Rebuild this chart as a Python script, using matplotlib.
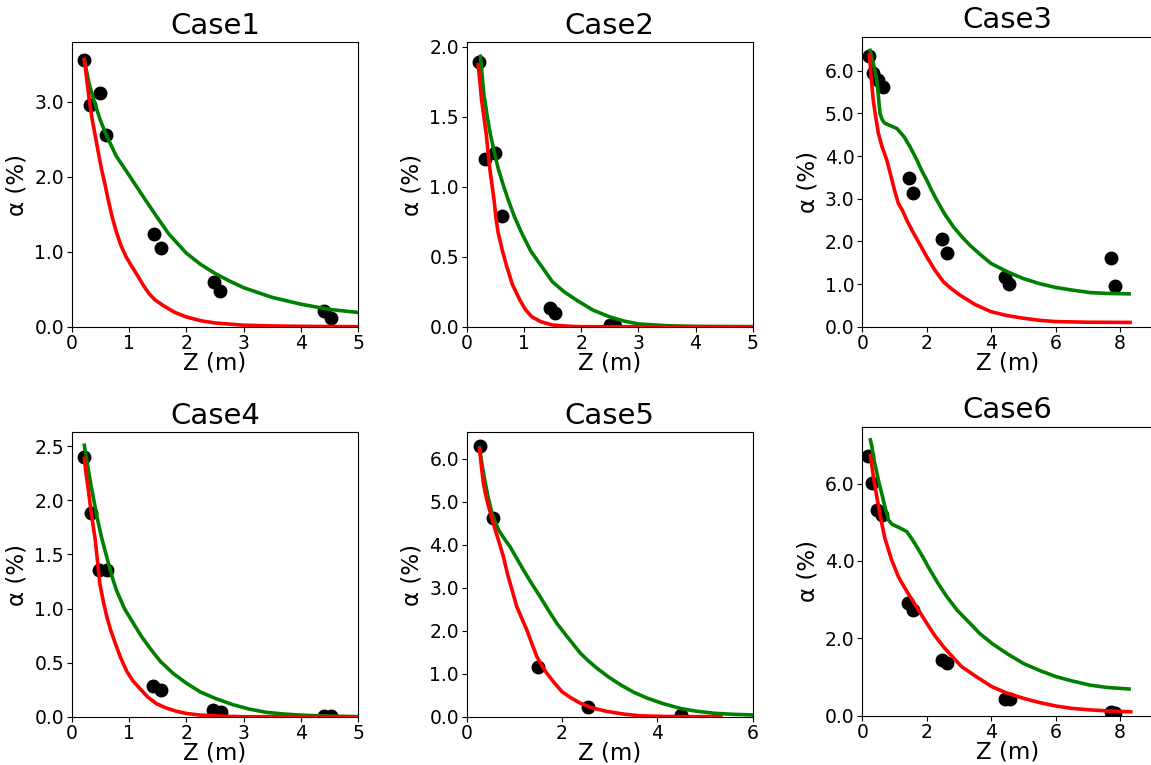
import matplotlib
matplotlib.use('Agg')
import matplotlib.pyplot as plt
from matplotlib.ticker import FormatStrFormatter

# measured points (Z in m, alpha in %)
case1_z = [0.22, 0.32, 0.49, 0.60, 1.44, 1.55, 2.48, 2.59, 4.41, 4.52]
case1_a = [3.56, 2.96, 3.11, 2.55, 1.24, 1.05, 0.59, 0.48, 0.21, 0.12]
case1_green_z = [0.22, 0.30, 0.40, 0.50, 0.60, 0.78, 1.0, 1.25, 1.48, 1.69, 2.0, 2.25, 2.5,
                 2.75, 3.0, 3.5, 4.0, 4.5, 5.0]
case1_green_a = [3.56, 3.25, 2.98, 2.75, 2.56, 2.27, 2.02, 1.73, 1.47, 1.24, 0.98, 0.83, 0.71,
                 0.61, 0.52, 0.39, 0.30, 0.23, 0.19]
case1_red_z = [0.22, 0.27, 0.31, 0.36, 0.41, 0.47, 0.52, 0.58, 0.64, 0.71, 0.78, 0.86, 0.95,
               1.05, 1.15, 1.25, 1.35, 1.45, 1.6, 1.8, 2.0, 2.25, 2.5, 3.0, 3.5, 4.0, 5.0]
case1_red_a = [3.56, 3.25, 3.0, 2.75, 2.55, 2.3, 2.1, 1.9, 1.68, 1.45, 1.26, 1.08, 0.93,
               0.80, 0.68, 0.55, 0.44, 0.36, 0.28, 0.19, 0.13, 0.08, 0.05, 0.02, 0.01, 0.005, 0.0]

case2_z = [0.22, 0.32, 0.49, 0.61, 1.45, 1.55, 2.50, 2.59]
case2_a = [1.89, 1.20, 1.24, 0.79, 0.13, 0.10, 0.01, 0.005]
case2_green_z = [0.24, 0.30, 0.36, 0.41, 0.48, 0.55, 0.64, 0.73, 0.84, 0.96, 1.12, 1.31, 1.5,
                 1.7, 1.92, 2.2, 2.5, 2.75, 3.0, 3.5, 4.0, 5.0]
case2_green_a = [1.93, 1.66, 1.50, 1.38, 1.25, 1.13, 1.01, 0.90, 0.78, 0.67, 0.54, 0.43, 0.32,
                 0.25, 0.19, 0.12, 0.07, 0.04, 0.02, 0.007, 0.002, 0.0]
case2_red_z = [0.20, 0.23, 0.26, 0.30, 0.34, 0.37, 0.40, 0.44, 0.48, 0.51, 0.55, 0.62, 0.70,
               0.80, 0.93, 1.03, 1.14, 1.3, 1.5, 1.75, 2.0, 5.0]
case2_red_a = [1.87, 1.75, 1.62, 1.50, 1.38, 1.26, 1.14, 1.02, 0.90, 0.78, 0.67, 0.55, 0.43,
               0.30, 0.19, 0.12, 0.07, 0.035, 0.012, 0.004, 0.0, 0.0]

case3_z = [0.22, 0.34, 0.50, 0.63, 1.45, 1.56, 2.48, 2.62, 4.43, 4.54, 7.71, 7.85]
case3_a = [6.34, 5.95, 5.78, 5.61, 3.48, 3.14, 2.05, 1.72, 1.17, 1.00, 1.60, 0.96]
case3_green_z = [0.24, 0.30, 0.38, 0.45, 0.50, 0.55, 0.62, 0.70, 0.85, 1.07, 1.3, 1.48, 1.7,
                 1.85, 2.0, 2.15, 2.31, 2.55, 2.83, 3.1, 3.34, 3.65, 4.0, 4.5, 4.99, 5.5,
                 6.0, 6.5, 7.07, 7.6, 8.28]
case3_green_a = [6.48, 6.3, 6.05, 5.78, 5.4, 5.0, 4.85, 4.77, 4.72, 4.65, 4.45, 4.22, 3.9,
                 3.65, 3.44, 3.2, 2.97, 2.65, 2.34, 2.1, 1.91, 1.7, 1.48, 1.29, 1.13, 1.01,
                 0.92, 0.86, 0.80, 0.78, 0.77]
case3_red_z = [0.22, 0.28, 0.34, 0.42, 0.50, 0.62, 0.76, 0.9, 1.0, 1.12, 1.25, 1.38, 1.55,
               1.75, 2.0, 2.25, 2.52, 2.75, 3.03, 3.5, 4.0, 4.5, 4.99, 5.5, 6.0, 7.0, 8.31]
case3_red_a = [6.37, 5.8, 5.31, 4.9, 4.53, 4.2, 3.91, 3.5, 3.2, 2.89, 2.72, 2.50, 2.25,
               1.98, 1.64, 1.33, 1.05, 0.9, 0.74, 0.52, 0.35, 0.26, 0.20, 0.15, 0.12, 0.105, 0.10]

case4_z = [0.22, 0.33, 0.48, 0.61, 1.42, 1.55, 2.47, 2.60, 4.40, 4.52]
case4_a = [2.40, 1.88, 1.36, 1.36, 0.28, 0.25, 0.06, 0.04, 0.01, 0.01]
case4_green_z = [0.22, 0.27, 0.32, 0.38, 0.44, 0.52, 0.61, 0.69, 0.78, 0.92, 1.08, 1.22, 1.37,
                 1.55, 1.77, 2.0, 2.24, 2.5, 2.82, 3.1, 3.4, 3.7, 3.98, 4.5, 5.0]
case4_green_a = [2.51, 2.35, 2.19, 2.02, 1.85, 1.66, 1.48, 1.32, 1.17, 1.0, 0.86, 0.74, 0.63,
                 0.51, 0.40, 0.31, 0.23, 0.17, 0.11, 0.07, 0.04, 0.025, 0.015, 0.005, 0.0]
case4_red_z = [0.22, 0.25, 0.29, 0.33, 0.37, 0.41, 0.45, 0.49, 0.55, 0.61, 0.68, 0.76, 0.85,
               0.96, 1.07, 1.19, 1.33, 1.48, 1.65, 1.83, 2.0, 2.24, 2.6, 3.0, 5.0]
case4_red_a = [2.39, 2.25, 2.10, 1.93, 1.78, 1.64, 1.44, 1.23, 1.07, 0.93, 0.80, 0.68, 0.55,
               0.42, 0.33, 0.26, 0.18, 0.12, 0.08, 0.05, 0.03, 0.015, 0.005, 0.0, 0.0]

case5_z = [0.27, 0.55, 1.49, 2.54, 4.49]
case5_a = [6.29, 4.61, 1.15, 0.22, 0.04]
case5_green_z = [0.27, 0.33, 0.39, 0.46, 0.53, 0.60, 0.67, 0.78, 0.91, 1.05, 1.19, 1.36, 1.54,
                 1.7, 1.89, 2.1, 2.39, 2.55, 2.74, 2.98, 3.23, 3.5, 3.79, 4.1, 4.49, 4.8,
                 5.19, 5.6, 6.02]
case5_green_a = [6.25, 5.8, 5.43, 5.05, 4.73, 4.52, 4.34, 4.15, 3.95, 3.68, 3.41, 3.1, 2.79,
                 2.5, 2.17, 1.87, 1.47, 1.3, 1.12, 0.92, 0.74, 0.57, 0.43, 0.31, 0.19, 0.13,
                 0.08, 0.055, 0.04]
case5_red_z = [0.27, 0.31, 0.35, 0.40, 0.46, 0.53, 0.60, 0.68, 0.77, 0.86, 0.95, 1.05, 1.15,
               1.26, 1.36, 1.47, 1.57, 1.68, 1.83, 2.0, 2.2, 2.39, 2.65, 2.95, 3.3, 3.65,
               4.2, 5.33]
case5_red_a = [6.22, 5.8, 5.43, 5.15, 4.88, 4.6, 4.34, 4.05, 3.72, 3.3, 2.95, 2.56, 2.3,
               2.02, 1.72, 1.40, 1.2, 1.01, 0.8, 0.58, 0.43, 0.31, 0.2, 0.12, 0.06, 0.02,
               0.005, 0.0]

case6_z = [0.19, 0.31, 0.45, 0.60, 1.41, 1.56, 2.46, 2.62, 4.43, 4.57, 7.71, 7.85]
case6_a = [6.72, 6.01, 5.32, 5.19, 2.92, 2.72, 1.44, 1.37, 0.42, 0.42, 0.10, 0.08]
case6_green_z = [0.25, 0.30, 0.34, 0.42, 0.50, 0.58, 0.65, 0.73, 0.81, 0.92, 1.07, 1.22, 1.38,
                 1.53, 1.69, 1.9, 2.10, 2.35, 2.62, 2.95, 3.34, 3.65, 4.02, 4.5, 5.0, 5.5,
                 6.01, 6.5, 7.07, 7.6, 8.28]
case6_green_a = [7.13, 6.95, 6.70, 6.4, 6.09, 5.82, 5.58, 5.3, 5.06, 4.95, 4.89, 4.83, 4.76,
                 4.58, 4.37, 4.07, 3.77, 3.42, 3.08, 2.72, 2.39, 2.12, 1.87, 1.6, 1.35, 1.17,
                 1.01, 0.90, 0.79, 0.73, 0.69]
case6_red_z = [0.25, 0.35, 0.45, 0.57, 0.70, 0.9, 1.12, 1.3, 1.48, 1.75, 2.0, 2.25, 2.52,
               2.8, 3.08, 3.5, 4.02, 4.5, 5.0, 5.5, 6.01, 6.5, 7.07, 7.7, 8.33]
case6_red_a = [6.72, 6.15, 5.66, 5.1, 4.59, 4.05, 3.59, 3.33, 3.08, 2.72, 2.39, 2.07, 1.78,
               1.52, 1.27, 1.03, 0.75, 0.58, 0.45, 0.34, 0.25, 0.19, 0.15, 0.12, 0.10]

titles = ['Case1', 'Case2', 'Case3', 'Case4', 'Case5', 'Case6']
points = [(case1_z, case1_a), (case2_z, case2_a), (case3_z, case3_a),
          (case4_z, case4_a), (case5_z, case5_a), (case6_z, case6_a)]
greens = [(case1_green_z, case1_green_a), (case2_green_z, case2_green_a), (case3_green_z, case3_green_a),
          (case4_green_z, case4_green_a), (case5_green_z, case5_green_a), (case6_green_z, case6_green_a)]
reds = [(case1_red_z, case1_red_a), (case2_red_z, case2_red_a), (case3_red_z, case3_red_a),
        (case4_red_z, case4_red_a), (case5_red_z, case5_red_a), (case6_red_z, case6_red_a)]
xlims = [5, 5, 9, 5, 6, 9]
ylims = [3.79, 2.03, 6.8, 2.63, 6.61, 7.47]
xticks = [[0, 1, 2, 3, 4, 5], [0, 1, 2, 3, 4, 5], [0, 2, 4, 6, 8],
          [0, 1, 2, 3, 4, 5], [0, 2, 4, 6], [0, 2, 4, 6, 8]]
yticks = [[0, 1, 2, 3], [0, 0.5, 1.0, 1.5, 2.0], [0, 1, 2, 3, 4, 5, 6],
          [0, 0.5, 1.0, 1.5, 2.0, 2.5], [0, 1, 2, 3, 4, 5, 6], [0, 2, 4, 6]]

W, H = 1151, 765
# axes boxes in pixels: left, top, width, height
boxes = [(71.7, 42.3, 286.6, 284.4), (466.7, 42.3, 286.0, 284.4), (862.3, 36.7, 290.0, 290.0),
         (71.7, 432.3, 286.6, 284.4), (466.7, 432.3, 286.0, 284.4), (862.3, 426.7, 290.0, 289.0)]

fig = plt.figure(figsize=(W / 100, H / 100), dpi=100)

for i in range(6):
    l, t, w, h = boxes[i]
    ax = fig.add_axes([l / W, (H - t - h) / H, w / W, h / H])
    ax.plot(points[i][0], points[i][1], 'o', color='black', markersize=9, zorder=2)
    ax.plot(greens[i][0], greens[i][1], color='green', lw=2.6, zorder=3)
    ax.plot(reds[i][0], reds[i][1], color='red', lw=2.6, zorder=4)
    ax.set_xlim(0, xlims[i])
    ax.set_ylim(0, ylims[i])
    ax.set_xticks(xticks[i])
    ax.set_yticks(yticks[i])
    ax.yaxis.set_major_formatter(FormatStrFormatter('%.1f'))
    ax.tick_params(labelsize=13.5, pad=2)
    ax.set_title(titles[i], fontsize=21)
    ax.set_xlabel('Z (m)', fontsize=16.5, labelpad=-1)
    ax.set_ylabel('α (%)', fontsize=16.5)

plt.savefig('out.png', dpi=100)
